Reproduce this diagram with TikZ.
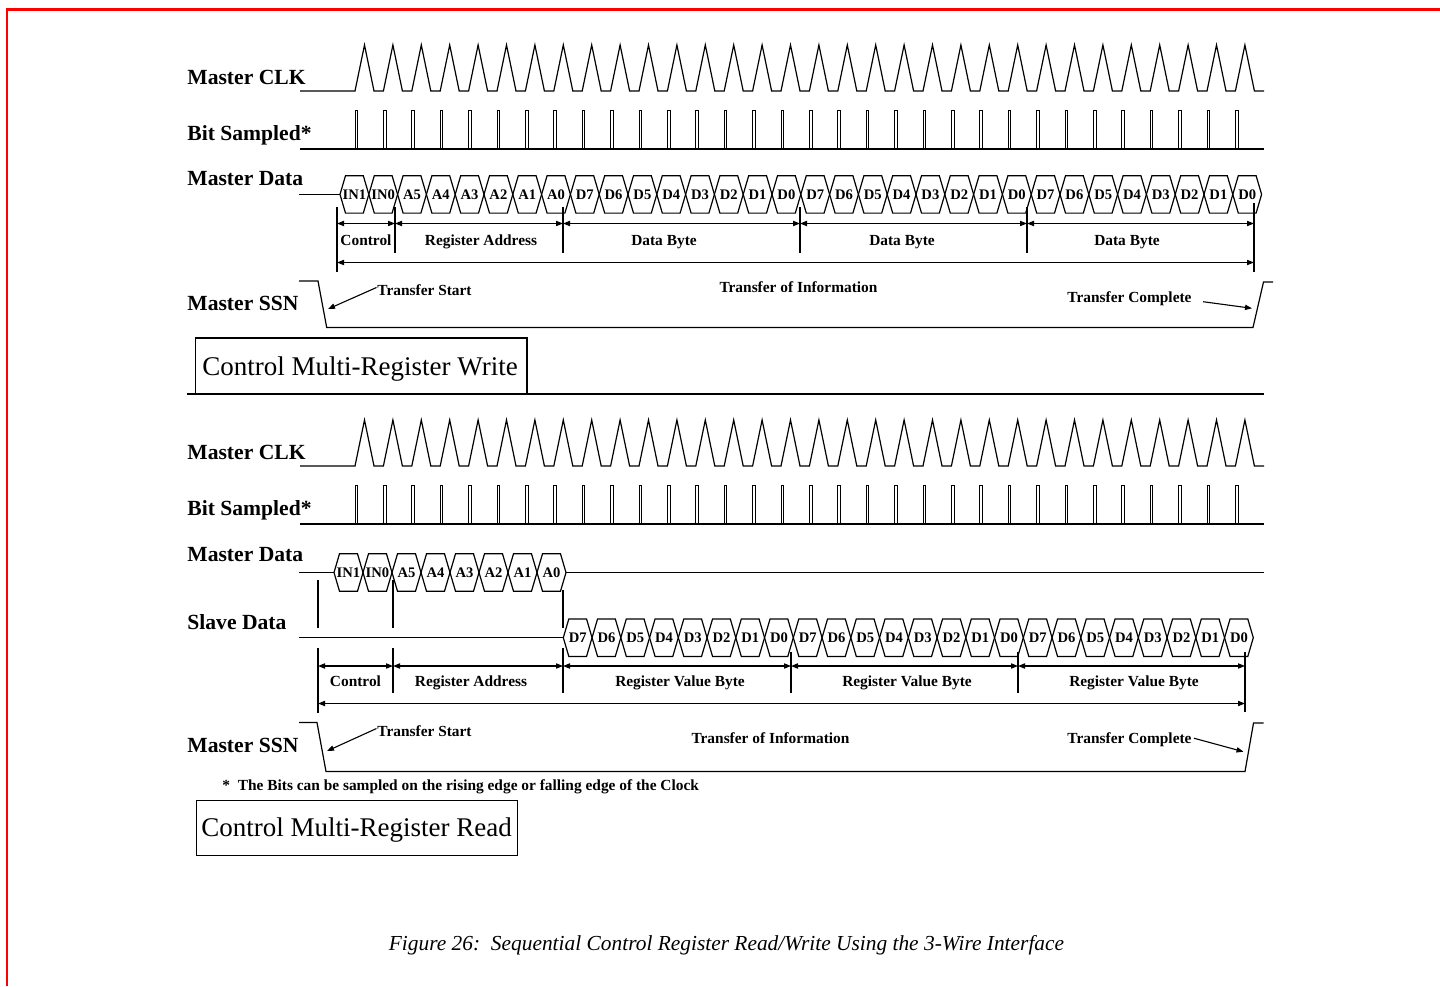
\documentclass[tikz,border=0pt]{standalone}
\usepackage{fontspec}
\setmainfont{Liberation Serif}
\usetikzlibrary{arrows.meta}
\tikzset{
  lbl/.style={font=\fontsize{10.8}{12}\selectfont\bfseries, anchor=base west, inner sep=0pt},
  smalllbl/.style={font=\fontsize{7.7}{9}\selectfont\bfseries, anchor=base, inner sep=0pt},
  hexlbl/.style={font=\fontsize{7.3}{8}\selectfont\bfseries, anchor=base, inner sep=0pt},
  boxlbl/.style={font=\fontsize{13.5}{15}\selectfont, anchor=base west, inner sep=0pt},
  wave/.style={line width=0.6pt, line join=miter},
  pulse/.style={line width=0.5pt},
  thin/.style={line width=0.55pt},
  dimarrow/.style={line width=0.6pt, {Triangle[length=3.5pt,width=2.6pt]}-{Triangle[length=3.5pt,width=2.6pt]}},
  ptr/.style={line width=0.55pt, -{Triangle[length=3.5pt,width=2.6pt]}},
  redframe/.style={draw=red, line width=1.1pt}
}
\newcommand\hexc[5]{%
  \draw[wave] (#1,#3) -- ({#1+5.5},{#3-18.7}) -- ({#2-5.5},{#3-18.7}) -- (#2,#3)
     -- ({#2-5.5},{#3+18.7}) -- ({#1+5.5},{#3+18.7}) -- cycle;
  \node[hexlbl] (#5) at ({(#1+#2)/2},{#3+5}) {#4};}
\begin{document}
\begin{tikzpicture}[x=0.5pt,y=-0.5pt]
\useasboundingbox (0,0) rectangle (1440,986);
\fill[white] (0,0) rectangle (1440,986);
% red frame
\draw[redframe] (6,9.5) -- (1440,9.5);
\draw[redframe] (6.6,9) -- (6.6,986);

%================ TOP : WRITE ==================
\node[lbl] (wclk) at (187,84) {Master CLK};
\node[lbl] (wbit) at (187,140) {Bit Sampled*};
\node[lbl] (wdat) at (187,185) {Master Data};
\node[lbl] (wssn) at (187,310) {Master SSN};

% clock
\draw[wave] (300,91) foreach \k in {0,...,31} { -- ({355+28.4*\k},91) -- ({364.5+28.4*\k},45) -- ({374+28.4*\k},91) } -- (1264,91);
% bit sampled
\draw[wave] (300,149) -- (1264,149);
\foreach \k in {0,...,31} \draw[pulse] ({355+28.4*\k},149) -- ++(0,-39) -- ++(2.6,0) -- ++(0,39);
% master data
\draw[wave] (299,194.4) -- (340,194.4);
\foreach \lab [count=\i from 0] in {IN1,IN0,A5,A4,A3,A2,A1,A0,D7,D6,D5,D4,D3,D2,D1,D0,D7,D6,D5,D4,D3,D2,D1,D0,D7,D6,D5,D4,D3,D2,D1,D0}{
  \pgfmathsetmacro\xa{340+28.8*\i}\pgfmathsetmacro\xb{\xa+28.8}
  \hexc{\xa}{\xb}{194.4}{\lab}{wh\i}}

% ticks
\draw[thin] (337,207) -- (337,272);
\draw[thin] (395,207) -- (395,253);
\draw[thin] (563,207) -- (563,253);
\draw[thin] (800,207) -- (800,253);
\draw[thin] (1027,207) -- (1027,253);
\draw[thin] (1254,203) -- (1254,272);
\coordinate (wa0) at (337,223.5);
\coordinate (wa1) at (395,223.5);
\coordinate (wa2) at (563,223.5);
\coordinate (wa3) at (800,223.5);
\coordinate (wa4) at (1027,223.5);
\coordinate (wa5) at (1254,223.5);
\draw[dimarrow] (wa0) -- (wa1);
\draw[dimarrow] (wa1) -- (wa2);
\draw[dimarrow] (wa2) -- (wa3);
\draw[dimarrow] (wa3) -- (wa4);
\draw[dimarrow] (wa4) -- (wa5);
\coordinate (wt0) at (337,262.5);
\coordinate (wt1) at (1254,262.5);
\draw[dimarrow] (wt0) -- (wt1);
\node[smalllbl] (wc1) at (366,245.7) {Control};
\node[smalllbl] (wc2) at (481,245.7) {Register Address};
\node[smalllbl] (wc3) at (664,245.7) {Data Byte};
\node[smalllbl] (wc4) at (902,245.7) {Data Byte};
\node[smalllbl] (wc5) at (1127,245.7) {Data Byte};

% SSN
\draw[wave] (299,281) -- (318,281) -- (326.7,327.5) -- (1253,327.5) -- (1263.5,282) -- (1273,282);
\node[smalllbl, anchor=base west] (wts) at (377,295) {Transfer Start};
\coordinate (wtsp) at (328,309);
\draw[ptr] (376.5,287.5) -- (wtsp);
\node[smalllbl] (wti) at (798.5,292) {Transfer of Information};
\node[smalllbl, anchor=base west] (wtc) at (1067,302) {Transfer Complete};
\coordinate (wtcp) at (1252,308.3);
\draw[ptr] (1203,301.7) -- (wtcp);

% title box
\draw[thin] (195.5,394) |- (527,338) -- (527,394);
\draw[thin] (187,394) -- (1264,394);
\node[boxlbl] (wbox) at (202,375.7) {Control Multi-Register Write};

%================ BOTTOM : READ ==================
\node[lbl] (rclk) at (187,459) {Master CLK};
\node[lbl] (rbit) at (187,515) {Bit Sampled*};
\node[lbl] (rdat) at (187,561.7) {Master Data};
\node[lbl] (rsla) at (187,629.3) {Slave Data};
\node[lbl] (rssn) at (187,752) {Master SSN};

\draw[wave] (300,466) foreach \k in {0,...,31} { -- ({355+28.4*\k},466) -- ({364.5+28.4*\k},420) -- ({374+28.4*\k},466) } -- (1264,466);
\draw[wave] (300,524) -- (1264,524);
\foreach \k in {0,...,31} \draw[pulse] ({355+28.4*\k},524) -- ++(0,-39) -- ++(2.6,0) -- ++(0,39);

% master data (read)
\draw[wave] (299,572.5) -- (334,572.5);
\foreach \lab [count=\i from 0] in {IN1,IN0,A5,A4,A3,A2,A1,A0}{
  \pgfmathsetmacro\xa{334+29*\i}\pgfmathsetmacro\xb{\xa+29}
  \hexc{\xa}{\xb}{572.5}{\lab}{rm\i}}
\draw[wave] (566,572.5) -- (1264,572.5);

% slave data
\draw[wave] (299,637.7) -- (563.3,637.7);
\foreach \lab [count=\i from 0] in {D7,D6,D5,D4,D3,D2,D1,D0,D7,D6,D5,D4,D3,D2,D1,D0,D7,D6,D5,D4,D3,D2,D1,D0}{
  \pgfmathsetmacro\xa{563.3+28.75*\i}\pgfmathsetmacro\xb{\xa+28.75}
  \hexc{\xa}{\xb}{637.7}{\lab}{rs\i}}

% ticks
\draw[thin] (318,580) -- (318,628);
\draw[thin] (393,580) -- (393,628);
\draw[thin] (563,590) -- (563,628);
\draw[thin] (318,648) -- (318,713);
\draw[thin] (393,648) -- (393,693);
\draw[thin] (563,648) -- (563,693);
\draw[thin] (791,652) -- (791,693);
\draw[thin] (1018,652) -- (1018,693);
\draw[thin] (1245,652) -- (1245,712);
\coordinate (ra0) at (318,666);
\coordinate (ra1) at (393,666);
\coordinate (ra2) at (563,666);
\coordinate (ra3) at (791,666);
\coordinate (ra4) at (1018,666);
\coordinate (ra5) at (1245,666);
\draw[dimarrow] (ra0) -- (ra1);
\draw[dimarrow] (ra1) -- (ra2);
\draw[dimarrow] (ra2) -- (ra3);
\draw[dimarrow] (ra3) -- (ra4);
\draw[dimarrow] (ra4) -- (ra5);
\coordinate (rt0) at (318,703.5);
\coordinate (rt1) at (1245,703.5);
\draw[dimarrow] (rt0) -- (rt1);
\node[smalllbl] (rc1) at (355.5,686.7) {Control};
\node[smalllbl] (rc2) at (471,686.7) {Register Address};
\node[smalllbl] (rc3) at (680,686.7) {Register Value Byte};
\node[smalllbl] (rc4) at (907,686.7) {Register Value Byte};
\node[smalllbl] (rc5) at (1134,686.7) {Register Value Byte};

% SSN
\draw[wave] (299,722.5) -- (317,722.5) -- (326,771.5) -- (1245,771.5) -- (1253.5,723) -- (1263.5,723);
\node[smalllbl, anchor=base west] (rts) at (377,736) {Transfer Start};
\coordinate (rtsp) at (327,751);
\draw[ptr] (376.5,728.5) -- (rtsp);
\node[smalllbl] (rti) at (770.5,743) {Transfer of Information};
\node[smalllbl, anchor=base west] (rtc) at (1067,743) {Transfer Complete};
\coordinate (rtcp) at (1243.5,751.7);
\draw[ptr] (rtc.east) ++(2,-1) -- (rtcp);

\node[smalllbl, anchor=base west] (foot) at (222,790) {*\ \ The Bits can be sampled on the rising edge or falling edge of the Clock};

\node[draw, thin, minimum width=160.5pt, minimum height=27.5pt, anchor=north west, inner sep=0pt] (rbox) at (195.5,800) {};
\node[boxlbl] (rboxt) at (201,836) {Control Multi-Register Read};

\node[font=\fontsize{10.7}{12}\selectfont\itshape, anchor=base, inner sep=0pt] (cap) at (726.5,950) {Figure 26:\ \ Sequential Control Register Read/Write Using the 3-Wire Interface};
\end{tikzpicture}
\end{document}
